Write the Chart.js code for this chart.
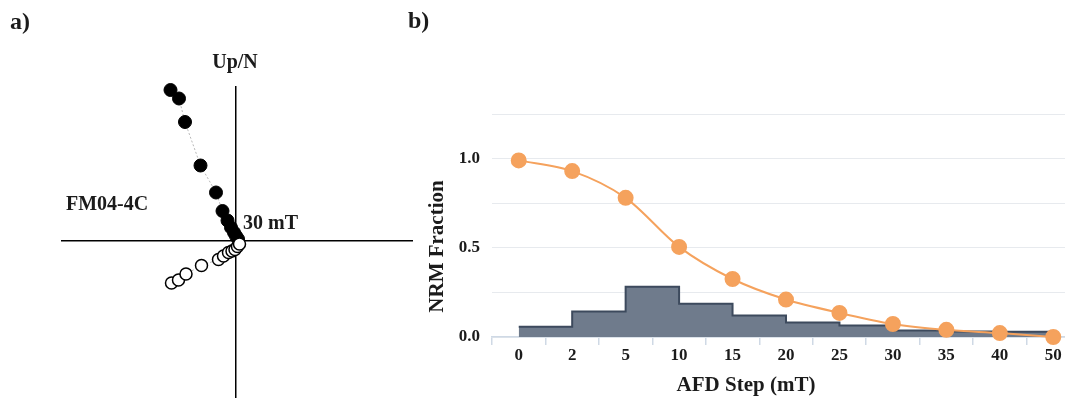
<!DOCTYPE html>
<html>
<head>
<meta charset="utf-8">
<title>FM04-4C AF demagnetization</title>
<script src="https://cdn.jsdelivr.net/npm/chart.js@4.4.0/dist/chart.umd.min.js"></script>
<style>
    html, body { margin: 0; padding: 0; background: #fff; }
    body { width: 1065px; height: 398px; position: relative; overflow: hidden; font-family: "Liberation Serif", serif; color: #1b1b1b; }
    canvas { position: absolute; }
    #zijd { left: 0; top: 0; }
    #nrm { left: 440px; top: 100px; }
    .lbl { position: absolute; font-weight: bold; line-height: 1; white-space: nowrap; }
</style>
</head>
<body>
<canvas id="zijd" width="430" height="398"></canvas>
<canvas id="nrm" width="649" height="298"></canvas>

<div class="lbl" style="left:10px;top:9px;font-size:24px">a)</div>
<div class="lbl" style="left:408px;top:8px;font-size:24px">b)</div>
<div class="lbl" style="left:185px;top:51px;width:100px;text-align:center;font-size:20px">Up/N</div>
<div class="lbl" style="left:66px;top:193px;font-size:20px">FM04-4C</div>
<div class="lbl" style="left:243px;top:212px;font-size:20px">30 mT</div>
<div class="lbl" style="left:336px;top:236px;width:200px;height:21px;line-height:21px;text-align:center;font-size:21px;transform:rotate(-90deg)">NRM Fraction</div>
<div class="lbl" style="left:646px;top:374px;width:200px;text-align:center;font-size:21px">AFD Step (mT)</div>

<script>
// a) orthogonal projection, arbitrary units (axes cross at 0)
const horizX = [-1.31, -1.14, -1.02, -0.71, -0.40, -0.27, -0.17, -0.10, -0.04, 0.00, 0.04];
const horizY = [3.01, 2.84, 2.37, 1.50, 0.96, 0.59, 0.40, 0.26, 0.16, 0.09, 0.03];
const vertX = [-1.29, -1.15, -1.00, -0.69, -0.35, -0.25, -0.15, -0.08, -0.02, 0.03, 0.07];
const vertY = [-0.85, -0.79, -0.67, -0.50, -0.38, -0.31, -0.24, -0.21, -0.18, -0.12, -0.07];

// b) AF demagnetization steps
const afdSteps = ['0', '2', '5', '10', '15', '20', '25', '30', '35', '40', '50'];
const nrmFraction = [0.99, 0.93, 0.78, 0.505, 0.325, 0.21, 0.135, 0.073, 0.04, 0.022, 0.0];
const stepLoss = [0.058, 0.143, 0.281, 0.186, 0.12, 0.081, 0.064, 0.036, 0.031, 0.03, 0.03];
const nrmTicks = [0, 0.5, 1.0];

const orange = '#f5a25d';
const ink = '#1b1b1b';
const tickFont = { family: 'Liberation Serif', size: 17, weight: 'bold' };

function toPoints(xs, ys) {
    return xs.map((x, i) => ({ x, y: ys[i] }));
}

// scales must not push the chart area around, layout.padding places it
function noScalePadding(s) {
    s.paddingTop = 0;
    s.paddingBottom = 0;
    s.paddingLeft = 0;
    s.paddingRight = 0;
}

const crossAxis = {
    afterBuildTicks: (scale) => { scale.ticks = [{ value: 0 }]; },
    afterFit: (scale) => { scale.width = 0; scale.height = 0; noScalePadding(scale); },
    ticks: { display: false },
    border: { display: false },
    grid: { drawTicks: false, color: '#000', lineWidth: 1.5 },
};

new Chart(document.getElementById('zijd'), {
    type: 'scatter',
    data: {
        datasets: [
            {
                label: 'vertical',
                data: toPoints(vertX, vertY),
                order: 0,
                clip: false,
                showLine: true,
                borderColor: '#b8b8b8',
                borderWidth: 1,
                borderDash: [2, 2],
                pointRadius: 6,
                pointBackgroundColor: '#fff',
                pointBorderColor: '#000',
                pointBorderWidth: 1.5,
            },
            {
                label: 'horizontal',
                data: toPoints(horizX, horizY),
                order: 1,
                clip: false,
                showLine: true,
                borderColor: '#b8b8b8',
                borderWidth: 1,
                borderDash: [2, 2],
                pointRadius: 6.5,
                pointBackgroundColor: '#000',
                pointBorderColor: '#000',
                pointBorderWidth: 1,
            },
        ],
    },
    options: {
        responsive: false,
        animation: false,
        layout: { autoPadding: false, padding: { left: 61, top: 86, right: 17, bottom: 0 } },
        plugins: { legend: { display: false }, tooltip: { enabled: false } },
        scales: {
            x: { type: 'linear', min: -3.5, max: 3.54, ...crossAxis },
            y: { type: 'linear', min: -3.15, max: 3.09, ...crossAxis },
        },
    },
});

new Chart(document.getElementById('nrm'), {
    type: 'line',
    data: {
        labels: afdSteps,
        datasets: [
            {
                label: 'NRM fraction',
                data: nrmFraction,
                order: 0,
                clip: false,
                borderColor: orange,
                borderWidth: 2,
                pointRadius: 7,
                pointBackgroundColor: orange,
                pointBorderColor: orange,
                tension: 0.3,
                fill: false,
            },
            {
                label: 'Loss per step',
                data: stepLoss,
                order: 1,
                stepped: 'before',
                borderColor: '#3d4a5d',
                borderWidth: 2,
                backgroundColor: '#6f7b8c',
                fill: 'origin',
                pointRadius: 0,
            },
        ],
    },
    options: {
        responsive: false,
        animation: false,
        layout: { padding: { left: 0, top: 14, right: 3, bottom: 0 } },
        plugins: { legend: { display: false }, tooltip: { enabled: false } },
        scales: {
            x: {
                offset: true,
                afterFit: (s) => { s.height = 61; },
                border: { color: '#cfd9e5', width: 1.5 },
                grid: { offset: true, drawOnChartArea: false, tickLength: 8, color: '#cfd9e5', lineWidth: 1.5 },
                ticks: { padding: 0, color: ink, font: tickFont, maxRotation: 0, autoSkip: false },
            },
            y: {
                min: 0,
                max: 1.25,
                afterFit: (s) => { s.width = 52; s.paddingTop = 0; },
                border: { display: false },
                grid: { drawTicks: false, color: '#e7eaee', lineWidth: 1 },
                ticks: {
                    stepSize: 0.25,
                    padding: 12,
                    color: ink,
                    font: tickFont,
                    callback: (v) => (nrmTicks.includes(v) ? v.toFixed(1) : ''),
                },
            },
        },
    },
});
</script>
</body>
</html>
